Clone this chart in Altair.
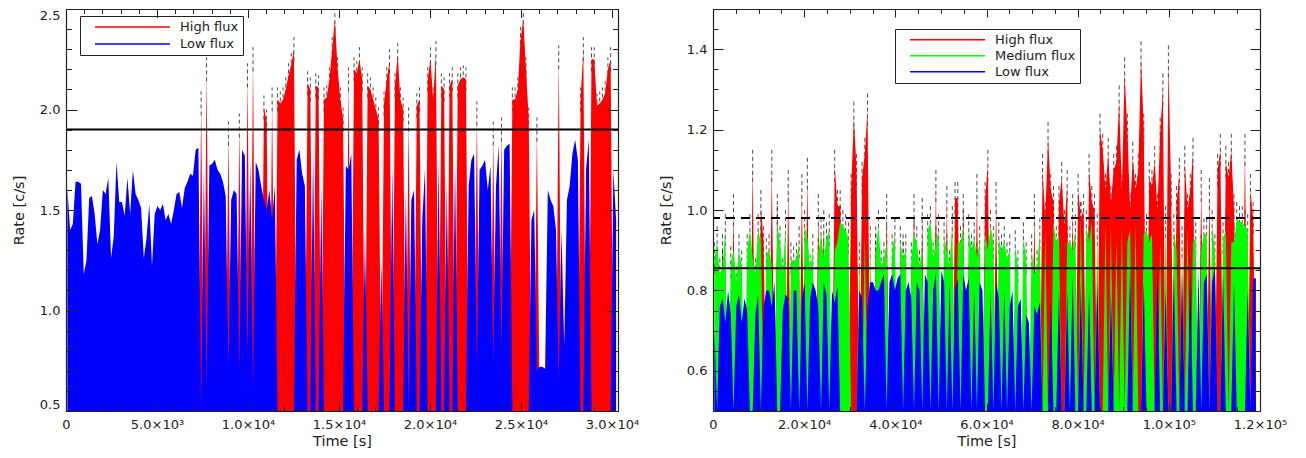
import altair as alt
import pandas as pd

# ---------------- values ----------------
# Left panel: light curve in 150 s bins, state H = high flux, L = low flux
LEFT_BIN_S = 150
LEFT_RATE = [
    1.61, 1.40, 1.43, 1.64, 1.64, 1.63, 1.18, 1.25, 1.56, 1.57,
    1.48, 1.33, 1.40, 1.60, 1.58, 1.66, 1.26, 1.37, 1.74, 1.54,
    1.54, 1.47, 1.66, 1.48, 1.70, 1.58, 1.55, 1.51, 1.26, 1.36,
    1.53, 1.22, 1.48, 1.52, 1.50, 1.53, 1.45, 1.48, 1.43, 1.50,
    1.58, 1.59, 1.51, 1.61, 1.64, 1.68, 1.67, 1.80, 1.81, 2.03,
    1.70, 2.20, 1.72, 1.73, 1.75, 1.70, 1.68, 1.64, 1.57, 1.88,
    1.55, 1.60, 1.58, 1.92, 1.80, 1.77, 2.17, 1.75, 2.25, 1.74,
    1.70, 1.62, 2.01, 1.94, 1.60, 2.05, 1.62, 2.05, 2.03, 2.05,
    2.10, 2.17, 2.22, 2.30, 1.75, 1.80, 1.68, 1.62, 2.13, 2.10,
    1.80, 2.12, 2.11, 1.62, 2.05, 2.06, 2.15, 2.30, 2.45, 2.20,
    2.05, 1.95, 1.72, 2.15, 1.78, 2.20, 2.18, 2.25, 2.15, 1.38,
    2.12, 2.10, 2.05, 2.00, 1.95, 1.25, 2.03, 2.15, 2.24, 1.72,
    2.12, 2.27, 2.05, 2.00, 1.60, 1.95, 1.55, 1.60, 2.02, 2.05,
    1.45, 1.70, 2.15, 2.25, 2.05, 2.28, 1.75, 2.12, 2.10, 1.65,
    2.12, 2.15, 1.75, 2.12, 2.15, 2.16, 2.15, 1.62, 1.75, 1.78,
    1.98, 1.70, 1.72, 1.75, 1.60, 1.72, 1.88, 1.62, 1.82, 1.90,
    1.80, 1.82, 1.83, 2.05, 2.05, 2.10, 2.35, 2.45, 2.20, 1.95,
    1.45, 1.50, 1.90, 0.72, 0.72, 0.71, 1.60, 1.55, 1.52, 1.40,
    2.26, 1.40, 0.82, 1.55, 1.62, 1.78, 1.85, 1.75, 2.05, 2.30,
    1.70, 1.85, 2.25, 2.25, 2.02, 2.03, 2.05, 2.08, 2.20, 2.25,
    1.70, 1.45,
]
LEFT_STATE = list(
    "LLLLLLLLLL" "LLLLLLLLLL" "LLLLLLLLLL" "LLLLLLLLLL" "LLLLLLLLLH"
    "LHLLLLLLLH" "LLLHLLHLHL" "LLHHLHLHHH" "HHHHLLLLHH" "LHHLHHHHHH"
    "HHLHLHHHHL" "HHHHHLHHHL" "HHHHLHLLHH" "LLHHHHLHHL" "HHLHHHHLLL"
    "HLLLLLHLLH" "LLLHHHHHHH" "LLHLLLLLLL" "HLLLLLLLHH" "LLHHHHHHHH"
    "LL"
)
# low-flux level still visible underneath some high-flux bins
LEFT_LOW_UNDER = {51: 0.64, 59: 0.72, 63: 0.70, 66: 0.78, 68: 0.60,
                  72: 1.55, 73: 1.50, 75: 1.45, 103: 1.70, 150: 0.70,
                  156: 0.75, 159: 0.80, 172: 0.70, 180: 0.65}
LEFT_NAMES = {"H": "High flux", "L": "Low flux"}
LEFT_THRESHOLD = 1.9
LEFT_ERR = 0.06

LEFT_HIGH = [v if s == "H" else None for v, s in zip(LEFT_RATE, LEFT_STATE)]
LEFT_LOW = [v if s == "L" else LEFT_LOW_UNDER.get(i)
            for i, (v, s) in enumerate(zip(LEFT_RATE, LEFT_STATE))]

# Right panel: 600 s bins; top of each flux class seen in that bin (None = absent)
RIGHT_BIN_S = 600
RIGHT_LOW = [
    0.70, None, 0.76, 0.78, 0.72, 0.80, 0.74, None, 0.76, 0.79,
    0.72, 0.78, 0.75, None, None, 0.74, 0.79, None, 0.76, 0.80,
    0.80, 0.76, 0.82, None, None, 0.75, 0.79, 0.78, None, 0.80,
    0.80, None, 0.78, 0.82, None, 0.78, 0.82, 0.80, 0.76, None,
    0.82, 0.79, None, 0.80, 0.77, 0.81, None, None, None, None,
    None, None, None, 0.80, 0.78, None, 0.76, 0.82, 0.82, 0.80,
    0.80, 0.82, 0.84, None, 0.82, 0.84, 0.80, 0.83, 0.84, None,
    0.80, 0.82, 0.78, None, 0.82, 0.80, None, 0.84, 0.82, None,
    0.80, 0.84, None, 0.85, 0.82, None, 0.82, None, 0.80, 0.83,
    None, 0.84, 0.80, 0.83, None, 0.80, None, 0.82, 0.80, None,
    None, 0.80, None, 0.82, 0.78, None, 0.80, None, 0.76, 0.80,
    None, 0.76, 0.78, None, 0.74, 0.72, None, 0.76, 0.74, 0.77,
    None, None, None, 0.78, None, None, 0.80, None, None, 0.80,
    None, 0.84, None, None, 0.82, None, None, 0.80, None, None,
    0.82, None, None, None, None, 0.80, None, None, None, None,
    None, None, 0.86, None, None, None, None, 0.82, None, None,
    None, None, 0.86, None, None, 0.80, None, None, 0.84, None,
    None, 0.84, None, None, 0.84, None, None, 0.85, None, 0.82,
    0.84, None, 0.82, 0.86, None, None, 0.84, None, None, None,
    0.82, None, None, None, None, 0.80, None, 0.83, 0.83,
]
RIGHT_MED = [
    0.88, 0.92, 0.84, 0.86, 0.95, None, 0.87, 0.90, 0.82, 0.90,
    0.86, None, 0.90, 0.95, 0.88, 0.84, 0.95, 0.92, None, 0.89,
    0.90, 0.86, None, 0.97, 0.92, 0.84, 0.96, None, 0.88, 0.87,
    0.88, 0.92, None, 0.96, 0.93, 0.85, 0.90, None, 0.89, 0.94,
    0.88, 0.93, 0.95, None, 0.90, 0.92, 0.97, 0.96, 0.95, 0.93,
    None, None, None, 0.88, None, 0.94, None, 0.92, None, 0.90,
    0.96, 0.86, 0.88, 0.92, None, 0.90, 0.94, None, 0.92, 0.88,
    0.90, None, 0.88, 0.94, 0.92, 0.86, 0.90, None, 0.95, 0.97,
    0.88, 0.92, 0.95, None, 0.93, 0.90, 0.86, 0.97, None, 0.92,
    0.92, 0.96, None, 0.95, 0.90, 0.93, 0.88, 0.92, None, 0.94,
    0.90, 0.96, 0.92, None, 0.93, 0.90, 0.92, 0.88, 0.90, None,
    0.91, 0.86, None, 0.93, 0.88, None, 0.90, 0.84, 0.86, 0.94,
    None, 0.95, None, None, 0.97, 0.92, 0.94, None, None, 0.92,
    0.92, 0.90, 0.95, None, 0.98, None, 0.96, 0.92, 0.97, None,
    0.95, None, None, 0.97, None, 0.96, None, 0.93, None, 0.96,
    None, 0.92, 0.95, None, 0.97, None, None, 0.94, 0.95, 0.92,
    0.94, None, None, 0.92, None, 0.97, None, None, 0.95, 0.90,
    None, 0.92, None, 0.96, None, 0.92, 0.93, None, 0.90, 0.94,
    0.94, None, 0.96, 0.90, None, None, 0.93, 0.95, None, 0.92,
    0.92, 0.98, 0.97, 0.97, 0.96, 0.95, None, None, None,
]
RIGHT_HIGH = [
    None, None, None, 0.90, None, None, None, 1.00, None, None,
    None, None, None, None, 1.11, None, None, 1.01, 0.92, None,
    None, 1.11, None, 1.00, None, None, None, 1.06, None, None,
    None, None, 1.05, None, 1.09, None, None, None, 1.00, None,
    0.96, None, None, None, 1.11, 1.01, 1.01, None, None, None,
    1.05, 1.23, 1.10, None, 1.08, 1.14, 1.25, None, None, 0.92,
    None, None, None, 1.00, None, None, None, None, None, 0.90,
    None, None, None, 1.00, None, None, 0.99, None, None, None,
    None, 1.06, None, None, None, 1.02, None, None, 1.03, 1.03,
    None, 1.00, None, None, None, None, 1.05, None, None, 1.03,
    1.11, None, None, 1.03, None, None, None, None, None, None,
    None, None, None, None, None, None, None, 1.00, None, None,
    1.10, 0.98, 1.18, 1.05, 1.02, None, 1.02, 1.08, 0.96, 1.06,
    None, 1.00, None, 1.05, 0.98, 1.00, None, 1.10, 1.02, 1.00,
    None, 1.20, 1.15, 1.05, 1.14, 1.02, 1.10, 1.12, 1.27, 1.05,
    1.34, 1.20, 1.00, 1.13, 1.05, 1.10, 1.38, 1.20, None, 1.08,
    1.06, 1.12, 1.00, 1.19, 1.30, None, 1.37, 1.05, None, 1.02,
    1.09, None, 1.12, 1.00, 1.05, 1.14, None, None, 1.06, None,
    None, 1.04, None, None, 1.10, 1.15, None, 1.12, 1.08, 1.15,
    1.00, None, None, None, 1.15, None, 1.05, 0.98, None,
]
RIGHT_NAMES = {"H": "High flux", "M": "Medium flux", "L": "Low flux"}
RIGHT_SOLID_LEVEL = 0.855
RIGHT_DASHED_LEVEL = 0.98
RIGHT_ERR = 0.04

COLORS = {"H": "#ff0000", "M": "#00ff00", "L": "#0000ff"}

# axes
LEFT_XDOM = [0, 30330]
LEFT_YDOM = [0.5, 2.5]
LEFT_XMAJ = [0, 5000, 10000, 15000, 20000, 25000, 30000]
LEFT_XLAB = ["0", "5.0×10³", "1.0×10⁴", "1.5×10⁴", "2.0×10⁴", "2.5×10⁴", "3.0×10⁴"]
LEFT_XMIN = list(range(0, 30331, 1000))
LEFT_YMAJ = [0.5, 1.0, 1.5, 2.0, 2.5]
LEFT_YMIN = [round(0.5 + 0.1 * k, 2) for k in range(21)]

RIGHT_XDOM = [0, 120000]
RIGHT_YDOM = [0.5, 1.5]
RIGHT_XMAJ = [0, 20000, 40000, 60000, 80000, 100000, 120000]
RIGHT_XLAB = ["0", "2.0×10⁴", "4.0×10⁴", "6.0×10⁴", "8.0×10⁴", "1.0×10⁵", "1.2×10⁵"]
RIGHT_XMIN = list(range(0, 120001, 5000))
RIGHT_YMAJ = [0.6, 0.8, 1.0, 1.2, 1.4]
RIGHT_YMIN = [round(0.5 + 0.05 * k, 3) for k in range(21)]

FONT = "DejaVu Sans"
INK = "#222222"


def label_expr(values, labels):
    parts = " : ".join(f"datum.value == {v} ? '{l}'" for v, l in zip(values, labels))
    return parts + " : ''"


def tick_axis(orient, values, size):
    return alt.Axis(orient=orient, values=values, labels=False, domain=False,
                    grid=False, ticks=True, tickSize=size, offset=-size,
                    tickColor=INK, tickWidth=1, title=None, zindex=1)


def frame_axis(orient):
    return alt.Axis(orient=orient, labels=False, ticks=False, grid=False,
                    domain=True, domainColor=INK, domainWidth=1.2,
                    title=None, zindex=1)


def panel(series, bin_s, names, order, err_codes, err, levels,
          xdom, ydom, xmaj, xlab, xmin, ymaj, ymin, yflush,
          xlen, ylen, legend, w, h):
    base = ydom[0]
    rows, err_rows, first_rows = [], [], []
    for code in order:
        vals = series[code]
        for i, v in enumerate(vals):
            t = bin_s * i + bin_s / 2
            rows.append({"t": t, "y": v if v is not None else base,
                         "code": code, "series": names[code]})
            if v is not None and code in err_codes:
                err_rows.append({"t": t, "lo": v - err, "hi": v + err})
        i0 = next(i for i, v in enumerate(vals) if v is not None)
        first_rows.append({"t": bin_s * i0 + bin_s / 2, "y": vals[i0], "series": names[code]})
    df = pd.DataFrame(rows)
    errs = pd.DataFrame(err_rows)
    first = pd.DataFrame(first_rows)

    xs = alt.Scale(domain=xdom, nice=False, zero=False)
    ys = alt.Scale(domain=ydom, nice=False, zero=False)
    tiny = df.head(1)

    def carrier(xa, ya):
        return alt.Chart(tiny).mark_point(opacity=0).encode(
            x=alt.X("t:Q", scale=xs, axis=xa), y=alt.Y("y:Q", scale=ys, axis=ya))

    xlabel_axis = alt.Axis(orient="bottom", values=xmaj, labelExpr=label_expr(xmaj, xlab),
                           labelFlush=False, labelPadding=7, ticks=False, tickSize=0,
                           domain=True, domainColor=INK, domainWidth=1.2, grid=False,
                           title="Time [s]", titlePadding=3, zindex=1)
    ylabel_axis = alt.Axis(orient="left", values=ymaj, format=".1f", labelFlush=yflush,
                           labelPadding=6, ticks=False, tickSize=0,
                           domain=True, domainColor=INK, domainWidth=1.2, grid=False,
                           title="Rate [c/s]", titlePadding=13, zindex=1)

    layers = [
        carrier(xlabel_axis, ylabel_axis),
        carrier(tick_axis("bottom", xmaj, xlen[0]), tick_axis("left", ymaj, ylen[0])),
        carrier(tick_axis("bottom", xmin, xlen[1]), tick_axis("left", ymin, ylen[1])),
        carrier(tick_axis("top", xmaj, xlen[0]), tick_axis("right", ymaj, ylen[0])),
        carrier(tick_axis("top", xmin, xlen[1]), tick_axis("right", ymin, ylen[1])),
        carrier(frame_axis("top"), frame_axis("right")),
    ]
    layers.append(
        alt.Chart(errs).mark_rule(color="black", strokeDash=[4, 3], strokeWidth=1,
                                  opacity=0.7, clip=True).encode(
            x=alt.X("t:Q", scale=xs, axis=None),
            y=alt.Y("lo:Q", scale=ys, axis=None), y2="hi:Q"))
    for code in order:
        layers.append(
            alt.Chart(df).transform_filter(alt.datum.code == code)
            .mark_area(interpolate="linear", clip=True, color=COLORS[code])
            .encode(x=alt.X("t:Q", scale=xs, axis=None),
                    y=alt.Y("y:Q", scale=ys, axis=None, stack=None),
                    y2=alt.datum(base)))
    lv = pd.DataFrame({"level": [l[0] for l in levels]})
    for value, dash in levels:
        kw = {"strokeDash": dash} if dash else {}
        layers.append(
            alt.Chart(lv).transform_filter(alt.datum.level == value)
            .mark_rule(color="black", strokeWidth=2, **kw)
            .encode(y=alt.Y("level:Q", scale=ys, axis=None)))
    legend_order = ["H", "M", "L"]
    dom = [names[c] for c in legend_order if c in names]
    rng = [COLORS[c] for c in legend_order if c in names]
    layers.append(
        alt.Chart(first).mark_line(strokeWidth=1.5).encode(
            x=alt.X("t:Q", scale=xs, axis=None),
            y=alt.Y("y:Q", scale=ys, axis=None),
            color=alt.Color("series:N", scale=alt.Scale(domain=dom, range=rng),
                            legend=legend)))
    return (alt.layer(*layers)
            .resolve_axis(x="independent", y="independent")
            .properties(width=w, height=h))


def make_legend(x, y, clip_h, row_pad):
    return alt.Legend(title=None, orient="none", legendX=x, legendY=y,
                      symbolType="stroke", symbolSize=5625, symbolStrokeWidth=1.5,
                      clipHeight=clip_h, rowPadding=row_pad, padding=4,
                      symbolOffset=10, labelOffset=9,
                      strokeColor="#222222", fillColor="white",
                      labelFont=FONT, labelFontSize=13, labelColor=INK)


H = 402
left = panel({"H": LEFT_HIGH, "L": LEFT_LOW}, LEFT_BIN_S, LEFT_NAMES, ["H", "L"], ["H"],
             LEFT_ERR, [(LEFT_THRESHOLD, None)],
             LEFT_XDOM, LEFT_YDOM, LEFT_XMAJ, LEFT_XLAB, LEFT_XMIN, LEFT_YMAJ, LEFT_YMIN, True,
             (8.5, 4.5), (11, 5.5), make_legend(14, 7, 14, 3), 552, H)
right = panel({"H": RIGHT_HIGH, "M": RIGHT_MED, "L": RIGHT_LOW}, RIGHT_BIN_S, RIGHT_NAMES,
              ["H", "M", "L"], ["H", "M"],
              RIGHT_ERR, [(RIGHT_SOLID_LEVEL, None), (RIGHT_DASHED_LEVEL, [9, 6])],
              RIGHT_XDOM, RIGHT_YDOM, RIGHT_XMAJ, RIGHT_XLAB, RIGHT_XMIN, RIGHT_YMAJ, RIGHT_YMIN,
              False, (8, 4.3), (10, 5), make_legend(182, 20, 13.5, 2), 547, H)

chart = (alt.hconcat(left, right, spacing=95, bounds="flush")
         .resolve_scale(x="independent", y="independent", color="independent")
         .configure_view(stroke="transparent")
         .configure_axis(labelFont=FONT, labelFontSize=13, labelColor=INK,
                         titleFont=FONT, titleFontSize=14.5, titleFontWeight="normal",
                         titleColor=INK)
         .configure_legend(labelFont=FONT, labelFontSize=13, labelColor=INK)
         .properties(padding={"left": 2, "top": 0, "right": 0, "bottom": 0}))

chart.save("out.html", embed_options={"renderer": "svg", "actions": False})
